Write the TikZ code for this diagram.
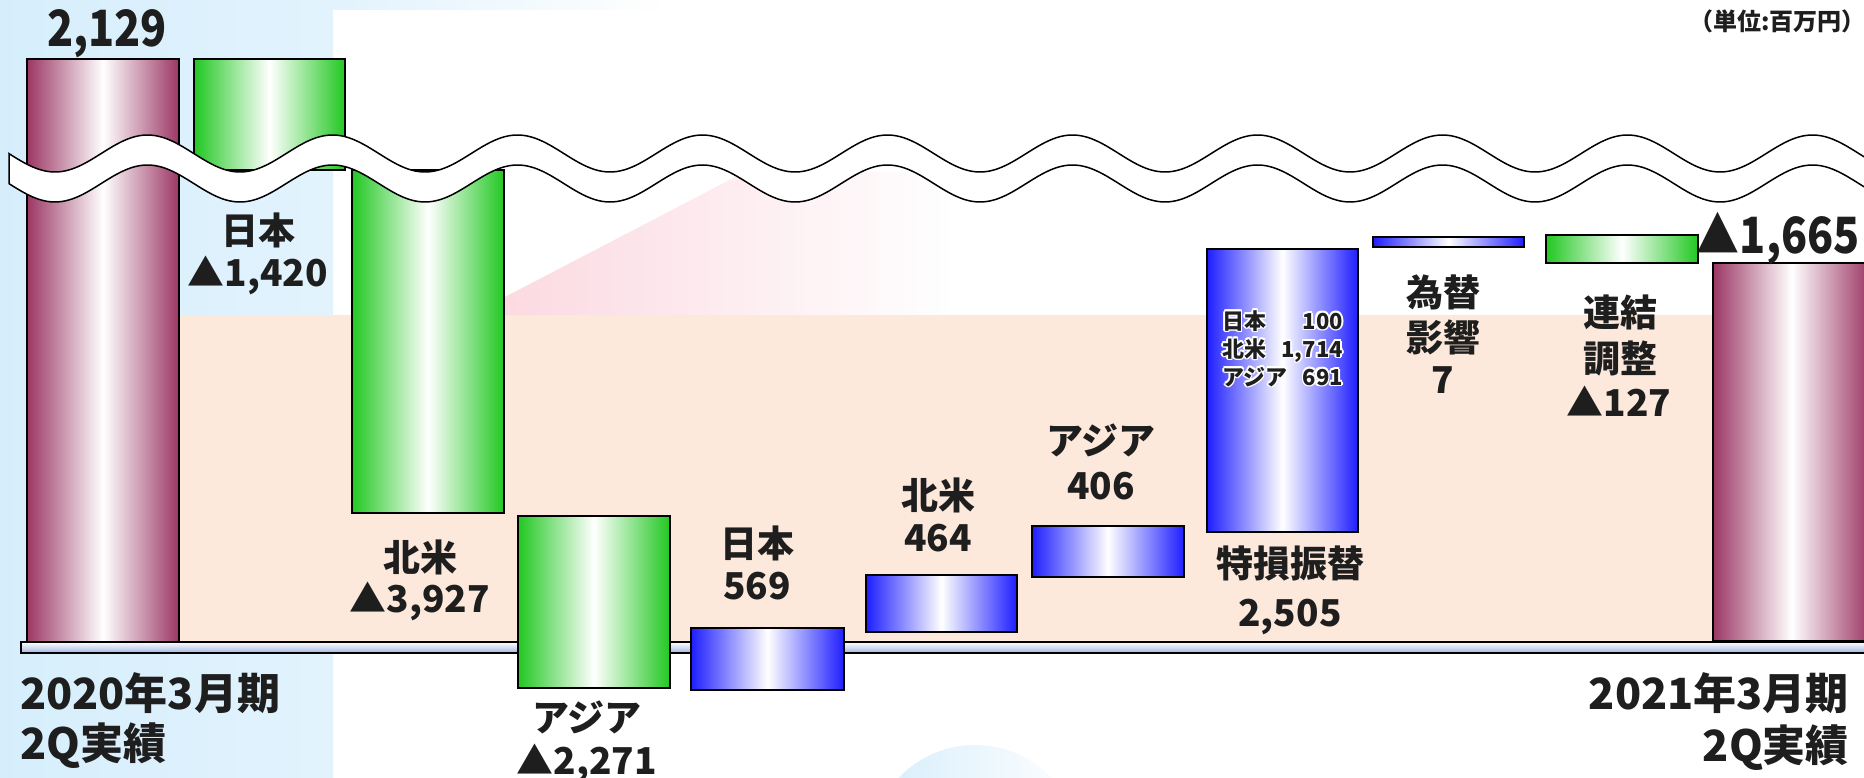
\documentclass[tikz,border=0pt]{standalone}
\usepackage{fontspec}
\usetikzlibrary{fadings}
\newfontfamily\jp{Noto Sans CJK JP}
\newfontfamily\jpc{Noto Sans CJK JP}[FakeStretch=0.86]
\definecolor{tx}{RGB}{30,30,30}
\definecolor{maroon}{RGB}{155,55,100}
\definecolor{grn}{RGB}{34,200,34}
\definecolor{blu}{RGB}{30,30,255}
\definecolor{peach}{RGB}{253,233,220}
\definecolor{lblue}{RGB}{214,238,252}
\definecolor{lblue2}{RGB}{226,243,253}
\definecolor{pinkish}{RGB}{252,218,226}
\definecolor{basebl}{RGB}{160,180,225}
\newcommand\glowtext[4]{%
  \foreach \dx/\dy [count=\k] in {-1.6/0,1.6/0,0/-1.6,0/1.6,-1.1/-1.1,1.1/1.1,-1.1/1.1,1.1/-1.1}{%
    \node[sml, anchor=#3, text=white] (#1g\k) at ([shift={(\dx,\dy)}]#2) {#4};}%
  \node[sml, anchor=#3] (#1) at (#2) {#4};}
\begin{document}
\begin{tikzpicture}[x=1pt,y=-1pt,
  lbl/.style={inner sep=0pt, anchor=base, text=tx, font=\jp\bfseries\fontsize{37}{37}\selectfont},
  big/.style={lbl, font=\jpc\bfseries\fontsize{50}{50}\selectfont},
  per/.style={lbl, font=\jp\bfseries\fontsize{43}{43}\selectfont},
  sml/.style={lbl, font=\jp\bfseries\fontsize{22}{22}\selectfont},
  unitlbl/.style={lbl, font=\jp\bfseries\fontsize{24}{24}\selectfont},
  barM/.style={draw=black, line width=1.5pt, left color=maroon, right color=maroon, middle color=white},
  barG/.style={draw=black, line width=1.5pt, left color=grn, right color=grn, middle color=white},
  barB/.style={draw=black, line width=1.5pt, left color=blu, right color=blu, middle color=white},
  wave/.style={draw=black, line width=1.5pt, fill=white}
]
\path[use as bounding box] (0,0) rectangle (1864,778);
\begin{scope}
\clip (0,0) rectangle (1864,778);
% backgrounds
\fill[white] (0,0) rectangle (1864,778);
\fill[left color=lblue, right color=lblue2] (0,0) rectangle (333,778);
\fill[lblue2, path fading=east] (333,0) rectangle (660,10);
\fill[peach] (178,315) rectangle (1864,642);
\fill[pinkish, path fading=east] (503,315) -- (503,298) -- (745,172) -- (950,172) -- (950,315) -- cycle;
\fill[lblue, path fading=east] (975,850) circle (105);
% baseline
\draw[line width=1.5pt, top color=white, bottom color=basebl] (21,642) rectangle (1870,653);
% bars
\draw[barM] (27,59) rectangle (179,642);
\draw[barG] (194,59) rectangle (345,170);
\draw[barG] (352,170) rectangle (504,513);
\draw[barG] (518,516) rectangle (670,688);
\draw[barB] (691,628) rectangle (844,690);
\draw[barB] (866,575) rectangle (1017,632);
\draw[barB] (1032,526) rectangle (1184,577);
\draw[barB] (1207,249) rectangle (1358,532);
\draw[barB] (1373,237) rectangle (1524,247);
\draw[barG] (1546,235) rectangle (1698,263);
\draw[barM] (1713,263) rectangle (1870,641);
% wave break
\draw[wave] plot[domain=9:1870, samples=500] (\x, {153.5+18.5*cos(((\x-55)/185)*360)})
  -- plot[domain=1870:9, samples=500] (\x, {183.5+18.5*cos(((\x-55)/185)*360)}) -- cycle;
\end{scope}
% labels
\node[big] (v2129) at (107,47) {2,129};
\node[unitlbl, anchor=base east] (unit) at (1866,31) {（単位:百万円）};
\node[lbl] (jp1a) at (258,244) {日本};
\node[lbl] (jp1b) at (258,287) {▲1,420};
\node[lbl] (na1a) at (420,571) {北米};
\node[lbl] (na1b) at (420,612) {▲3,927};
\node[lbl] (as1a) at (587,731) {アジア};
\node[lbl] (as1b) at (587,774) {▲2,271};
\node[lbl] (jp2a) at (757,557) {日本};
\node[lbl] (jp2b) at (757,599) {569};
\node[lbl] (na2a) at (938,509) {北米};
\node[lbl] (na2b) at (938,551) {464};
\node[lbl] (as2a) at (1101,454) {アジア};
\node[lbl] (as2b) at (1101,499) {406};
\node[lbl] (tka) at (1290,577) {特損振替};
\node[lbl] (tkb) at (1290,626) {2,505};
\node[lbl] (fxa) at (1443,306) {為替};
\node[lbl] (fxb) at (1443,351) {影響};
\node[lbl] (fxc) at (1443,393) {7};
\node[lbl] (cna) at (1620,326) {連結};
\node[lbl] (cnb) at (1620,372) {調整};
\node[lbl] (cnc) at (1619,416) {▲127};
\node[big, anchor=base east] (v1665) at (1860,254) {▲1,665};
\node[per, anchor=base west] (p1a) at (20,709) {2020年3月期};
\node[per, anchor=base west] (p1b) at (20,759) {2Q実績};
\node[per, anchor=base east] (p2a) at (1849,709) {2021年3月期};
\node[per, anchor=base east] (p2b) at (1849,761) {2Q実績};
\glowtext{inJ}{1222,329}{base west}{日本}
\glowtext{inJn}{1343,329}{base east}{100}
\glowtext{inN}{1222,357}{base west}{北米}
\glowtext{inNn}{1343,357}{base east}{1,714}
\glowtext{inA}{1222,385}{base west}{アジア}
\glowtext{inAn}{1343,385}{base east}{691}
\end{tikzpicture}
\end{document}
